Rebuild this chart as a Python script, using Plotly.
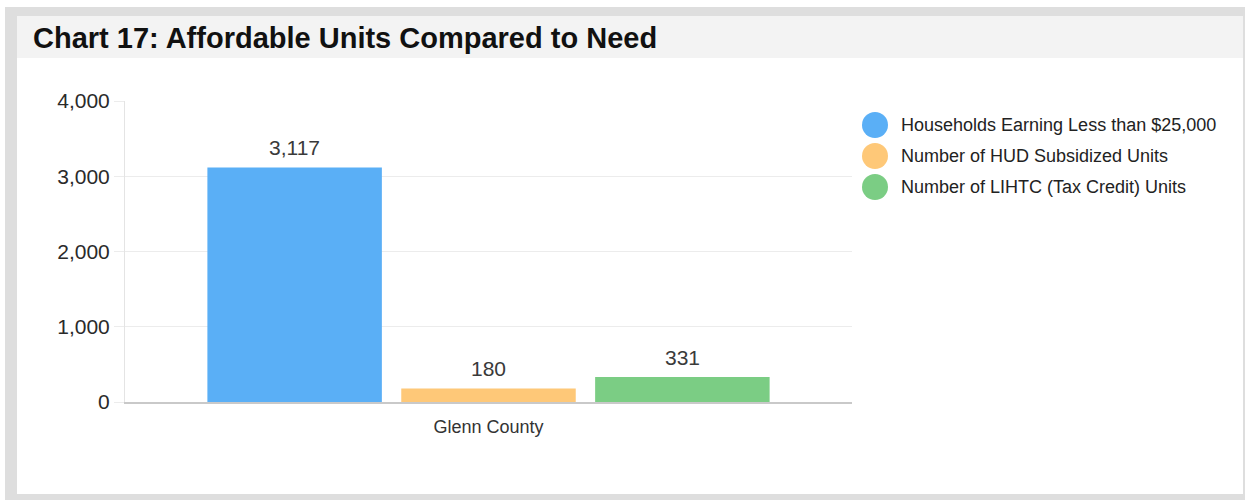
import plotly.graph_objects as go

# Data
categories = ["Glenn County"]
series_names = [
    "Households Earning Less than $25,000",
    "Number of HUD Subsidized Units",
    "Number of LIHTC (Tax Credit) Units",
]
series_values = [
    [3117],
    [180],
    [331],
]
series_colors = ["#5aaff6", "#fec878", "#7bcd84"]
y_ticks = [0, 1000, 2000, 3000, 4000]

# Canvas and plot-area geometry (pixels)
W, H = 1245, 500
PL, PR, PT, PB = 125, 852, 101, 402
BARGAP = 0.2
FONT = "Liberation Sans, Arial, sans-serif"


def fx(px):
    return (px - PL) / (PR - PL)


def fy(py):
    return (PB - py) / (PB - PT)


fig = go.Figure()
for name, vals, color in zip(series_names, series_values, series_colors):
    fig.add_trace(go.Bar(
        x=categories,
        y=vals,
        name=name,
        marker=dict(color=color, line=dict(width=0)),
        showlegend=False,
        hoverinfo="skip",
    ))

annotations = []
# value labels above each bar, centred on its slot within the group
n_series = len(series_values)
slot = (1 - BARGAP) / n_series
for i, vals in enumerate(series_values):
    offset = -(1 - BARGAP) / 2 + slot * (i + 0.5)
    for ci, v in enumerate(vals):
        annotations.append(dict(
            text=f"{v:,}", xref="x", yref="y", x=ci + offset, y=v,
            xanchor="center", yanchor="bottom", yshift=6, showarrow=False,
            font=dict(size=21, color="#3a3a3a", family=FONT),
        ))

shapes = []
# outer grey frame, white card, light header band
shapes.append(dict(type="rect", xref="paper", yref="paper", layer="below",
                   x0=fx(5), x1=fx(1245), y0=fy(500), y1=fy(7),
                   fillcolor="#dedede", line=dict(width=0)))
shapes.append(dict(type="rect", xref="paper", yref="paper", layer="below",
                   x0=fx(17), x1=fx(1243), y0=fy(494), y1=fy(16),
                   fillcolor="#ffffff", line=dict(width=0)))
shapes.append(dict(type="rect", xref="paper", yref="paper", layer="below",
                   x0=fx(17), x1=fx(1243), y0=fy(58), y1=fy(16),
                   fillcolor="#f3f3f3", line=dict(width=0)))

annotations.append(dict(
    text="<b>Chart 17: Affordable Units Compared to Need</b>",
    xref="paper", yref="paper", x=fx(31), y=fy(38),
    xanchor="left", yanchor="middle", showarrow=False,
    font=dict(size=29, color="#111111", family=FONT),
))

# legend with round swatches
legend_rows = [125, 156, 187]
for name, color, row in zip(series_names, series_colors, legend_rows):
    shapes.append(dict(type="circle", xref="paper", yref="paper",
                       x0=fx(862), x1=fx(888), y0=fy(row + 13), y1=fy(row - 13),
                       fillcolor=color, line=dict(width=0)))
    annotations.append(dict(
        text=name, xref="paper", yref="paper", x=fx(899), y=fy(row),
        xanchor="left", yanchor="middle", showarrow=False,
        font=dict(size=18, color="#222222", family=FONT),
    ))

fig.update_layout(
    width=W, height=H, autosize=False,
    margin=dict(l=PL, r=W - PR, t=PT, b=H - PB, pad=0),
    paper_bgcolor="#ffffff", plot_bgcolor="rgba(0,0,0,0)",
    barmode="group", bargap=BARGAP, bargroupgap=0.1,
    shapes=shapes, annotations=annotations,
    showlegend=False,
    font=dict(family=FONT, color="#333333"),
    xaxis=dict(
        showgrid=False, showline=True, linecolor="#c9c9c9", linewidth=2,
        ticks="", tickfont=dict(size=18, color="#333333"),
        ticklabelstandoff=7,
        fixedrange=True, zeroline=False,
    ),
    yaxis=dict(
        range=[0, 4000], tickvals=y_ticks, tickformat=",",
        showgrid=True, gridcolor="#ececec", gridwidth=1,
        showline=True, linecolor="#e4e4e4", linewidth=1,
        ticks="outside", ticklen=10, tickcolor="#ececec",
        tickfont=dict(size=21, color="#2a2a2a"),
        zeroline=False, fixedrange=True,
    ),
)

fig.write_html("out.html")
